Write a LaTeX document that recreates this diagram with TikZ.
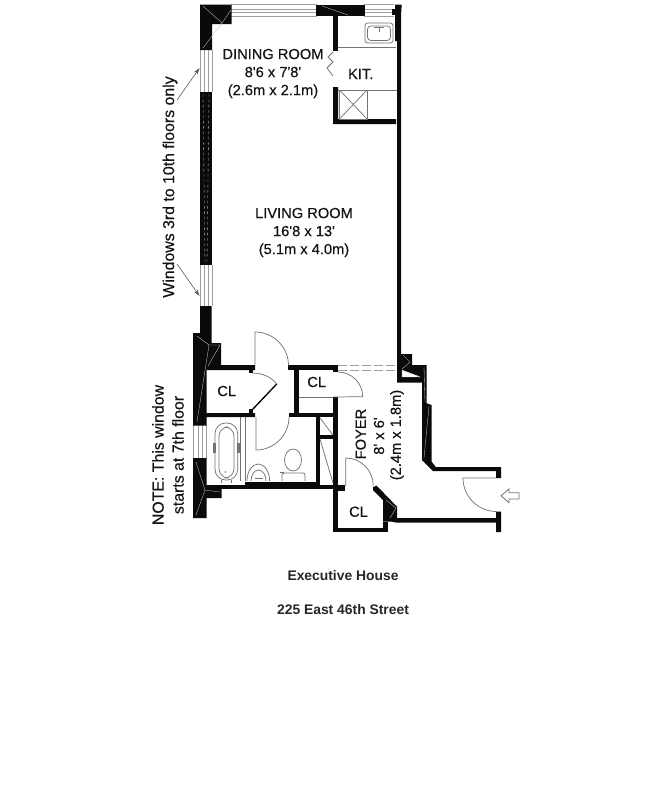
\documentclass[tikz,border=0pt]{standalone}
\usepackage{fontspec}
\setmainfont{Liberation Sans}
\newfontfamily\heavyfont{Liberation Sans}[FakeBold=0.3]
\usetikzlibrary{arrows.meta}
\definecolor{wallblack}{gray}{0.04}
\definecolor{fixture}{gray}{0.45}
\definecolor{glass}{gray}{0.62}
\tikzset{
  wall/.style={fill=wallblack,draw=none},
  hatch/.style={draw=gray!45,line width=0.25pt},
  win/.style={draw=glass,line width=0.7pt},
  thin/.style={draw=fixture,line width=0.55pt},
  lbl/.style={font=\heavyfont\fontsize{11}{13}\selectfont,align=center,inner sep=0pt,text=black!92},
  notelbl/.style={font=\heavyfont\fontsize{11.9}{13}\selectfont,rotate=90,inner sep=0pt,text=black!92},
  foot/.style={font=\fontsize{10.4}{12}\selectfont\bfseries,inner sep=0pt,text=black!85},
  pointer/.style={draw=black!65,line width=0.45pt,-{Stealth[length=5pt,width=3pt]}},
  entry/.style={draw=fixture,line width=0.6pt,fill=white,line join=miter},
}
\begin{document}
\begin{tikzpicture}[x=0.75pt,y=-0.75pt]
\useasboundingbox (0,0) rectangle (663,800);
\fill[white] (0,0) rectangle (663,800);

% ---- windows
\foreach \y in {4.7,9,12,16}{\draw[win] (231,\y) -- (317,\y); \draw[win] (364,\y) -- (394,\y);}
\foreach \x in {200,204,208,212}{\draw[win] (\x,50) -- (\x,92); \draw[win] (\x,265) -- (\x,306);}
\foreach \x in {193,198,202,206.5}{\draw[win] (\x,425) -- (\x,459);}

% ---- outer walls, top and left
\fill[wall] (200,4.5) -- (231.7,4.5) -- (231.7,24) -- (212,24) -- (212,50) -- (200,50) -- cycle;
\fill[wall] (316,4.5) -- (365,4.5) -- (365,16) -- (316,16) -- cycle;
\fill[wall] (200,91.5) rectangle (211.7,265);
\fill[wall] (200,306) -- (211.7,306) -- (211.7,343) -- (221,343) -- (221,365) -- (255,365) -- (255,370) -- (206.7,370)
  -- (206.7,413) -- (255,413) -- (255,417) -- (206.7,417) -- (206.7,425.5) -- (193,425.5) -- (193,333) -- (200,333) -- cycle;
\fill[wall] (193,458) -- (206.7,458) -- (206.7,485) -- (221.7,488) -- (221.7,498) -- (206.7,498) -- (206.7,518) -- (193,518) -- cycle;
% right wall
\fill[wall] (395,4.5) -- (401.7,4.5) -- (401,16) -- (401,354) -- (412,354) -- (412,365) -- (426.7,365) -- (426.7,403.3)
  -- (431.7,405) -- (431.7,461.7) -- (435.7,467) -- (501,467) -- (501,478) -- (496,478) -- (496,471) -- (433,471)
  -- (422,460) -- (422,382.7) -- (397,382.7) -- (397,41) -- (395,41) -- cycle;
\fill[wall] (392,9) rectangle (398,15);
\fill[white] (402,370) -- (420,376.7) -- (402,377) -- cycle;
\draw[hatch] (402,370) -- (402,377) -- (420,377) -- cycle;
% hatch marks in the corner blocks
\draw[hatch] (203,6) -- (222,23) -- (203,48);
\draw[hatch] (222,23) -- (231,10);
\draw[hatch] (322,6) -- (348,15);
\draw[hatch] (197,336) -- (209,345) -- (197,422);
\draw[hatch] (209,345) -- (220,345) -- (208,366);
\draw[hatch] (196,462) -- (205,490) -- (196,515);
\draw[hatch] (205,490) -- (220,492);
\draw[hatch,dash pattern=on 2pt off 2pt] (203,94) -- (205,263);
\draw[hatch,dash pattern=on 2pt off 2pt] (209,94) -- (207,263);
\draw[hatch] (403,355) -- (410,362) -- (402,369);
\draw[hatch] (424,367) -- (425,402);
\draw[hatch] (429,406) -- (424,458);

% ---- kitchen
\fill[wall] (333,16) rectangle (338,51);
\fill[wall] (333,87) -- (338,87) -- (338,119) -- (396,119) -- (396,124) -- (333,124) -- cycle;
\draw[thin] (338,47) -- (396,47);
\draw[thin] (338,90) -- (397,90);
\draw[thin] (339.5,90) rectangle (367,119);
\draw[thin] (339.5,90) -- (367,119) (367,90) -- (339.5,119);
\draw[thin] (333,52) -- (328,57) -- (333,62) -- (327,68) -- (333,76);
\draw[thin,rounded corners=2pt] (365,23) rectangle (393,43);
\draw[thin,rounded corners=2.5pt] (367.5,26) rectangle (390.5,40.5);
\draw[thin] (374,27) -- (384,27) (379,27) -- (379,32);

% ---- interior walls at the bath and closets
\fill[wall] (288,365) rectangle (337.7,370);
\fill[wall] (333,370) rectangle (337.7,371.7);
\fill[wall] (294,370) rectangle (299,413);
\fill[wall] (289,413) rectangle (333,417);
\fill[wall] (333,397) rectangle (338,532);
\fill[wall] (207,485) rectangle (345,489);
\fill[wall] (245,481.5) rectangle (320,489);
\fill[wall] (315.7,417) rectangle (320,489);
\fill[wall] (320,435) rectangle (333,439);
\fill[wall] (333,485.7) rectangle (345,490.7);
\fill[wall] (333,527.7) rectangle (388,532);
\fill[wall] (249,369) rectangle (253,373);
\fill[wall] (249,409) rectangle (253,413);
\draw[thin] (320,418) -- (333,435);
\draw[thin] (320,439) -- (333,483);
\draw[thin] (299,397.5) -- (333,397.5);

% foyer closet block
\fill[wall] (373,487) -- (376.7,485.7) -- (397,506.7) -- (397,518) -- (496,518) -- (496,511.7) -- (501,511.7) -- (501,532)
  -- (496,532) -- (496,522.7) -- (397,522.7) -- (391.7,521.7) -- (388,521.7) -- (383,521.7) -- (383,500) -- (373,490) -- cycle;
\fill[wall] (383,521.7) rectangle (388,532);
\draw[hatch] (390,518) -- (396,508) -- (386,500);

% ---- dashed opening to the foyer
\draw[draw=glass,line width=0.7pt,dash pattern=on 7pt off 2pt] (338,365) -- (397,365);
\draw[draw=glass,line width=0.7pt,dash pattern=on 7pt off 2pt] (338,370.5) -- (397,370.5);

% ---- doors (the y axis points down, so a positive angle turns towards the bottom of the page)
\draw[thin] (255,365) -- (255,332) arc[start angle=-90,end angle=0,radius=33.5];
\draw[thin] (256,417) -- (256,450) arc[start angle=90,end angle=0,radius=33];
\draw[thin] (252,373) .. controls (263,373) and (271,377) .. (276.7,384);
\draw[black,line width=1pt] (276.7,384) -- (252,410);
\draw[thin] (338,372) arc[start angle=-90,end angle=0,radius=24.7] -- (333,397);
\draw[thin] (345.7,486) -- (345.7,458) arc[start angle=-90,end angle=0,radius=27.5];
\draw[thin] (496,478) -- (463,478) arc[start angle=180,end angle=90,radius=33.5];

% ---- bath fixtures
\draw[thin] (240.7,417) -- (240.7,481);
\draw[thin] (245,417) -- (245,481);
\draw[thin,rounded corners=8pt] (215,480) -- (215,423) -- (237.7,423) -- (237.7,480) -- cycle;
\draw[thin,rounded corners=7pt] (219,478) -- (219,427) -- (234,427) -- (234,478) -- cycle;
\fill[fixture] (213,443) rectangle (216,453);
\fill[fixture] (236.5,443) rectangle (239.5,453);
\draw[thin] (221,480) -- (221,482.5) (231,480) -- (231,482.5);
\fill[fixture] (225.5,472) circle[radius=0.8];
\draw[thin] (247,481) arc[start angle=180,end angle=360,x radius=11.3,y radius=17];
\draw[thin] (251,481) arc[start angle=180,end angle=360,x radius=7.5,y radius=11];
\draw[thin] (255,478) -- (263,478);
\draw[thin,rounded corners=1.5pt] (282,481) -- (282,473) -- (305,473) -- (305,481);
\draw[thin,fill=white] (293,460) ellipse[x radius=8.5,y radius=11];
\draw[thin] (280,472) -- (284,472);

% ---- entry arrow
\draw[entry] (501,495.7) -- (509,489) -- (509,492.7) -- (519,492.7) -- (519,499) -- (509,499) -- (509,502.7) -- cycle;

% ---- pointers
\coordinate (ptail1) at (177,100);
\coordinate (ptip1) at (199.5,68);
\coordinate (ptail2) at (177,264);
\coordinate (ptip2) at (199.5,296);
\draw[pointer] (ptail1) -- (ptip1);
\draw[pointer] (ptail2) -- (ptip2);

% ---- labels
\node[lbl] (dining) at (273,73.5) {DINING ROOM\\[0.5pt]8'6 x 7'8'\\[0.5pt](2.6m x 2.1m)};
\node[lbl] (kit) at (360.7,74) {KIT.};
\node[lbl] (living) at (304,232.5) {LIVING ROOM\\[0.5pt]16'8 x 13'\\[0.5pt](5.1m x 4.0m)};
\node[lbl] (cla) at (226.7,391) {CL};
\node[lbl] (clb) at (316.7,382) {CL};
\node[lbl] (clc) at (358.5,511.7) {CL};
\node[lbl,rotate=90] (foyer) at (360.7,434) {FOYER};
\node[lbl,rotate=90] (foyerft) at (379,436) {8' x 6'};
\node[lbl,rotate=90] (foyerm) at (397,435) {(2.4m x 1.8m)};
\node[notelbl] (winnote) at (170,187) {Windows 3rd to 10th floors only};
\node[notelbl] (notea) at (158,455) {NOTE: This window};
\node[notelbl] (noteb) at (178,455) {starts at 7th floor};
\node[foot] (bldg) at (343,576) {Executive House};
\node[foot] (addr) at (343,610) {225 East 46th Street};
\end{tikzpicture}
\end{document}
